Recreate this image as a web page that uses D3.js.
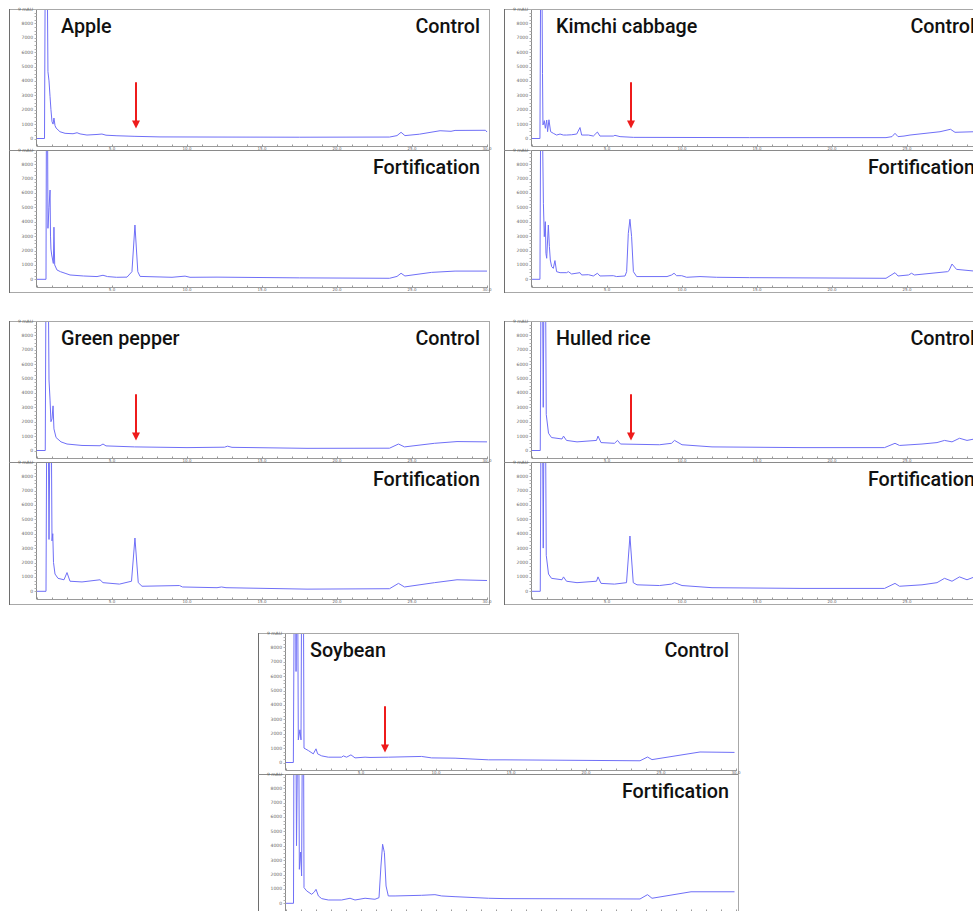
<!DOCTYPE html>
<html><head><meta charset="utf-8">
<script src="https://cdn.jsdelivr.net/npm/d3@7"></script>
<style>body{margin:0;background:#fff}svg{display:block}</style>
</head><body><svg id="c" width="973" height="911"></svg>
<script>
// ---------- data ----------
const samples = ["Apple", "Kimchi cabbage", "Green pepper", "Hulled rice", "Soybean"];
const conditions = ["Control", "Fortification"];
const yTicks = [0, 1000, 2000, 3000, 4000, 5000, 6000, 7000, 8000];
const yTopLabel = "9 mAU";
const xTicks = [5, 10, 15, 20, 25, 30];
const xTickLabels = ["5.0", "10.0", "15.0", "20.0", "25.0", "30.0"];
// arrow marking analyte retention time in control runs [time, from signal, to signal]
const arrowMark = [6.6, 3900, 700];

// traces: [retention time (min), signal]
const appleControl = [[0,0],[0.5,0],[0.55,12000],[0.68,12000],[0.73,4640],[0.8,4000],[0.87,2900],[0.93,2000],[1.0,1170],[1.07,1000],[1.13,1420],[1.2,900],[1.27,730],[1.53,470],[1.87,360],[2.4,330],[2.67,400],[2.87,320],[3.33,240],[4.0,280],[4.33,310],[4.6,230],[5.33,190],[6.53,150],[8.2,110],[12,100],[17.5,90],[23.5,100],[24,200],[24.27,430],[24.53,200],[25.5,300],[26.87,540],[27.6,500],[27.87,560],[29.9,570],[30,450]];
const appleFort = [[0,0],[0.6,0],[0.63,12000],[0.7,12000],[0.73,3540],[0.8,5000],[0.87,6200],[0.9,3000],[0.93,2100],[0.98,1690],[1.09,1100],[1.13,3620],[1.18,1000],[1.33,650],[1.56,530],[1.87,420],[2.2,300],[3.1,230],[4.0,190],[4.4,280],[4.7,190],[5.3,140],[6.0,150],[6.33,530],[6.53,3770],[6.72,530],[6.87,200],[9.0,140],[9.87,220],[10.2,140],[12,150],[17.5,100],[23.5,70],[24,200],[24.27,420],[24.53,230],[26.3,480],[27.87,570],[30,570]];
const kimchiControl = [[0,0],[0.53,0],[0.58,12000],[0.66,12000],[0.7,4500],[0.73,940],[0.76,1000],[0.82,1240],[0.89,710],[0.98,1280],[1.04,475],[1.13,1300],[1.24,475],[1.42,360],[1.64,240],[1.87,310],[2.09,240],[2.31,240],[2.64,260],[2.98,310],[3.2,760],[3.31,240],[3.76,240],[4.09,170],[4.36,450],[4.53,170],[5.42,170],[5.53,220],[5.87,130],[6.76,80],[14.5,60],[23.6,60],[24.0,130],[24.2,360],[24.4,130],[24.8,170],[25.2,240],[27.2,470],[27.9,640],[28.2,430],[29.5,470],[30,470]];
const kimchiFort = [[0,0],[0.53,0],[0.58,12000],[0.68,12000],[0.76,5280],[0.82,2960],[0.89,4000],[0.93,1800],[0.98,1460],[1.09,3770],[1.16,2270],[1.22,1340],[1.31,880],[1.42,760],[1.53,1300],[1.64,530],[1.87,460],[2.31,460],[2.42,530],[2.64,370],[3.2,460],[3.31,300],[3.76,320],[4.09,230],[4.36,420],[4.53,230],[5.42,250],[5.64,190],[6.2,230],[6.31,530],[6.42,3190],[6.53,4170],[6.64,2960],[6.76,530],[6.98,190],[9.0,190],[9.31,300],[9.47,420],[9.64,250],[9.98,250],[10.31,140],[11.2,190],[12.31,140],[14.5,115],[23.6,70],[24.2,460],[24.4,230],[25.1,300],[25.3,420],[25.5,300],[27.7,530],[27.8,600],[28.0,1060],[28.3,690],[29.4,580],[30,580]];
const pepperControl = [[0,0],[0.55,0],[0.6,12000],[0.75,12000],[0.8,4900],[0.87,3500],[0.93,2000],[1.0,2200],[1.07,3100],[1.13,1500],[1.27,900],[1.6,600],[2.0,450],[3.0,350],[4.2,330],[4.4,450],[4.6,320],[6.5,250],[10,200],[12.5,230],[12.7,300],[13,220],[18,150],[23.5,160],[24.1,450],[24.5,250],[26.5,500],[28,620],[30,600]];
const pepperFort = [[0,0],[0.6,0],[0.65,12000],[0.75,12000],[0.8,3600],[0.87,12000],[0.95,12000],[1.0,3500],[1.05,4000],[1.1,2000],[1.2,1200],[1.4,900],[1.8,800],[2.0,1300],[2.2,700],[3,650],[4.2,800],[4.4,600],[5.5,500],[6.3,700],[6.53,3700],[6.75,600],[7,350],[9.5,400],[9.7,300],[12,250],[12.3,300],[12.6,250],[18,150],[23.5,180],[24.1,550],[24.5,300],[26.5,600],[28.0,800],[30,750]];
const riceControl = [[0,0],[0.55,0],[0.6,12000],[0.7,12000],[0.75,3000],[0.8,12000],[0.9,12000],[0.95,2500],[1.1,1200],[1.3,900],[2.0,800],[2.1,1000],[2.3,700],[3.0,600],[4.3,700],[4.4,1000],[4.6,550],[5.5,500],[5.7,700],[5.9,450],[8.5,400],[9.3,500],[9.5,700],[10,400],[12,250],[18,200],[23.5,200],[24.2,500],[24.5,350],[26,450],[27,550],[27.5,700],[28,600],[28.5,850],[29,700],[29.5,800],[30,750]];
const riceFort = [[0,0],[0.55,0],[0.6,12000],[0.7,12000],[0.75,3000],[0.8,12000],[0.9,12000],[0.95,2500],[1.1,1200],[1.3,900],[2.0,800],[2.1,1000],[2.3,700],[3.0,600],[4.3,700],[4.4,1000],[4.6,550],[5.5,500],[6.3,600],[6.53,3840],[6.75,600],[7,450],[8.5,400],[9.3,500],[9.5,600],[10,400],[12,250],[18,200],[23.5,200],[24.2,550],[24.5,350],[26,450],[27,600],[27.5,900],[28,700],[28.5,1000],[29,800],[29.5,1000],[30,900]];
const soyControl = [[0,0],[0.49,0],[0.55,12000],[0.64,12000],[0.67,6320],[0.71,12000],[0.78,12000],[0.82,1570],[0.93,2270],[1.0,1570],[1.04,12000],[1.16,12000],[1.2,1000],[1.49,830],[1.82,600],[2.0,950],[2.11,600],[2.38,460],[2.82,370],[3.71,370],[3.82,460],[4.04,370],[4.33,530],[4.6,320],[5.27,370],[5.6,350],[6.82,370],[9.04,420],[9.71,320],[11.27,300],[13.5,185],[14.6,185],[23.6,120],[24.1,380],[24.4,200],[27.6,730],[29.9,700]];
const soyFort = [[0,0],[0.5,0],[0.53,12000],[0.66,12000],[0.7,4000],[0.78,12000],[0.85,12000],[0.89,2360],[0.98,3560],[1.04,1900],[1.09,12000],[1.17,12000],[1.2,1090],[1.38,860],[1.71,625],[1.89,790],[2.0,970],[2.16,510],[2.38,325],[2.82,230],[3.71,230],[4.27,350],[4.6,230],[5.27,350],[5.93,280],[6.2,390],[6.33,2590],[6.44,4100],[6.56,3520],[6.67,1200],[6.82,510],[7.27,510],[9.04,555],[9.93,600],[10.38,510],[11.27,460],[13.5,350],[14.6,325],[23.6,300],[24.1,600],[24.4,350],[27,800],[29.9,800]];

const traces = [[appleControl, appleFort],[kimchiControl, kimchiFort],[pepperControl, pepperFort],[riceControl, riceFort],[soyControl, soyFort]];

// ---------- layout ----------
const origins = [[9,9],[504,9],[9,321],[504,321],[258,633]];
const PW = 480, PH = 283;
const subs = [{top:0, zero:129.5, axis:137}, {top:141, zero:270.3, axis:278}];
const traceColor = "#6f6ff7";
const labelFont = "Roboto, 'Noto Sans', sans-serif";
const svg = d3.select("#c");
const x = d3.scaleLinear().domain([0,30]).range([28, 478]);

function label(sel, tx, ty, anchor, str) {
  sel.append("text").attr("transform", `translate(${tx},${ty}) scale(0.94,1)`)
    .attr("text-anchor", anchor)
    .attr("font-family", labelFont).attr("font-weight", 500)
    .attr("font-size", 21).attr("fill", "#111").text(str);
}

samples.forEach((name, i) => {
  const [ox, oy] = origins[i];
  const g = svg.append("g").attr("transform", `translate(${ox},${oy})`);
  // frame
  g.append("rect").attr("x",0.5).attr("y",0.5).attr("width",PW).attr("height",PH)
    .attr("fill","none").attr("stroke","#a8a8a8");
  g.append("line").attr("x1",0.5).attr("x2",0.5).attr("y1",0).attr("y2",PH+1).attr("stroke","#6e6e6e");
  g.append("line").attr("x1",0).attr("x2",PW).attr("y1",141.5).attr("y2",141.5).attr("stroke","#8a8a8a");

  subs.forEach((sb, j) => {
    const y = d3.scaleLinear().domain([0,9000]).range([sb.zero, sb.zero - 129.6]);
    const sg = g.append("g");
    // y axis
    sg.append("line").attr("x1",27.5).attr("x2",27.5).attr("y1",sb.top+1).attr("y2",sb.axis).attr("stroke","#8c8c8c");
    const minor = d3.range(0, 9001, 250);
    sg.selectAll(".ym").data(minor).join("line")
      .attr("x1",25.5).attr("x2",27.5).attr("y1",d=>Math.round(y(d))+0.5).attr("y2",d=>Math.round(y(d))+0.5)
      .attr("stroke","#b0b0b0");
    sg.selectAll(".yl").data(yTicks).join("text")
      .attr("x",24).attr("y",d=>y(d)+1.5).attr("text-anchor","end")
      .attr("font-size",4.5).attr("font-family","DejaVu Sans").attr("fill","#666").text(d=>d);
    sg.append("text").attr("x",24).attr("y",y(9000)+2.5).attr("text-anchor","end")
      .attr("font-size",4.5).attr("font-family","DejaVu Sans").attr("fill","#666").text(yTopLabel);
    // x axis
    sg.append("line").attr("x1",27.5).attr("x2",479).attr("y1",sb.axis+0.5).attr("y2",sb.axis+0.5).attr("stroke","#9a9a9a");
    sg.selectAll(".xm").data(d3.range(0,31,1)).join("line")
      .attr("x1",d=>Math.round(x(d))+0.5).attr("x2",d=>Math.round(x(d))+0.5)
      .attr("y1",sb.axis-1.5).attr("y2",sb.axis+0.5).attr("stroke","#9a9a9a");
    sg.selectAll(".xl").data(xTicks).join("text")
      .attr("x",(d)=>x(d)).attr("y",sb.axis+4).attr("text-anchor","middle")
      .attr("font-size",4).attr("font-family","DejaVu Sans").attr("fill","#666")
      .text((d,k)=>xTickLabels[k]);
    // clip + trace
    const cid = `clip${i}_${j}`;
    sg.append("clipPath").attr("id",cid).append("rect")
      .attr("x",28).attr("y",sb.top+1).attr("width",451).attr("height",sb.axis - sb.top - 1);
    const line = d3.line().x(d=>x(d[0])).y(d=>y(d[1]));
    sg.append("path").datum(traces[i][j]).attr("clip-path",`url(#${cid})`)
      .attr("d",line).attr("fill","none").attr("stroke",traceColor).attr("stroke-width",1)
      .attr("stroke-linejoin","round");
    // condition label
    label(sg, 471, sb.top + 24, "end", conditions[j]);
    if (j === 0) {
      label(sg, 52, sb.top + 24, "start", name);
      // arrow
      const ax = x(arrowMark[0]), y1 = y(arrowMark[1]), y2 = y(arrowMark[2]);
      sg.append("line").attr("x1",ax).attr("x2",ax).attr("y1",y1).attr("y2",y2-6)
        .attr("stroke","#ee1b1b").attr("stroke-width",2);
      sg.append("path").attr("d",`M${ax-4},${y2-8}L${ax+4},${y2-8}L${ax},${y2}Z`).attr("fill","#ee1b1b");
    }
  });
});
</script></body></html>
